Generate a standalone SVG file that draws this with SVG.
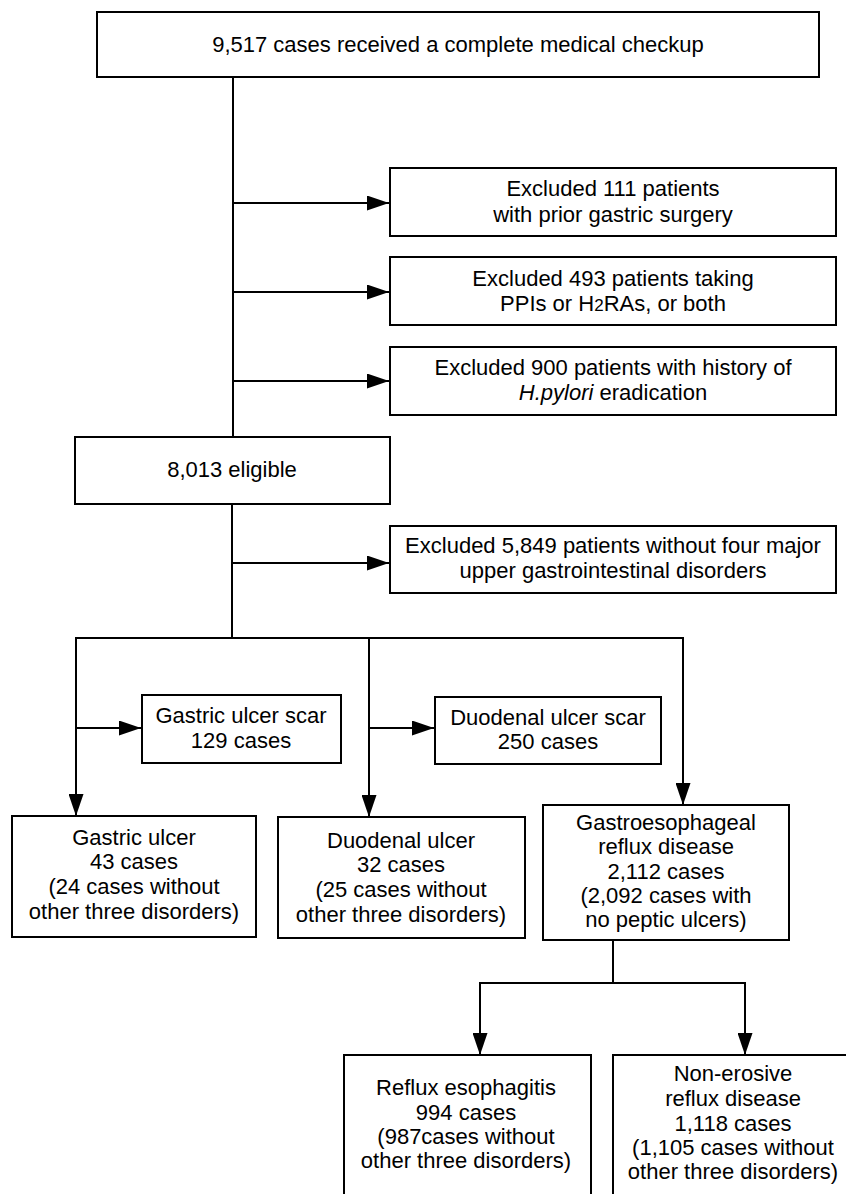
<svg xmlns="http://www.w3.org/2000/svg" width="846" height="1194" viewBox="0 0 846 1194">
<defs>
<style>
.box{fill:#fff;stroke:#000;stroke-width:2}
.t{font-family:"Liberation Sans",Arial,sans-serif;font-size:22px;fill:#000;text-anchor:middle}
.c{fill:none;stroke:#000;stroke-width:2}
</style>
<marker id="ah" viewBox="0 0 22 15" refX="22" refY="7.5" markerWidth="22" markerHeight="15" markerUnits="userSpaceOnUse" orient="auto">
<path d="M0,0 L22,7.5 L0,15 Z" fill="#000"/>
</marker>
</defs>
<rect width="846" height="1194" fill="#fff"/>
<g id="connectors">
<path class="c" d="M233,77 V437"/>
<path class="c" d="M233,203 H389" marker-end="url(#ah)"/>
<path class="c" d="M233,292 H389" marker-end="url(#ah)"/>
<path class="c" d="M233,381 H389" marker-end="url(#ah)"/>
<path class="c" d="M232,504 V638"/>
<path class="c" d="M232,563 H389" marker-end="url(#ah)"/>
<path class="c" d="M75,638 H684"/>
<path class="c" d="M76,638 V816" marker-end="url(#ah)"/>
<path class="c" d="M76,728 H141" marker-end="url(#ah)"/>
<path class="c" d="M369,638 V817" marker-end="url(#ah)"/>
<path class="c" d="M369,728 H434" marker-end="url(#ah)"/>
<path class="c" d="M683,638 V805" marker-end="url(#ah)"/>
<path class="c" d="M613,940 V983"/>
<path class="c" d="M479,983 H746"/>
<path class="c" d="M480,983 V1055" marker-end="url(#ah)"/>
<path class="c" d="M745,983 V1055" marker-end="url(#ah)"/>
</g>
<g id="n-total">
<rect class="box" x="97" y="12" width="722" height="65"/>
<text class="t" x="458" y="52">9,517 cases received a complete medical checkup</text>
</g>
<g id="n-ex1">
<rect class="box" x="390" y="168" width="446" height="68"/>
<text class="t" x="613" y="196">Excluded 111 patients</text>
<text class="t" x="613" y="222">with prior gastric surgery</text>
</g>
<g id="n-ex2">
<rect class="box" x="390" y="257" width="446" height="68"/>
<text class="t" x="613" y="286">Excluded 493 patients taking</text>
<text class="t" x="613" y="311">PPIs or H<tspan font-size="17">2</tspan>RAs, or both</text>
</g>
<g id="n-ex3">
<rect class="box" x="390" y="347" width="446" height="68"/>
<text class="t" x="613" y="375">Excluded 900 patients with history of</text>
<text class="t" x="613" y="400"><tspan font-style="italic">H.pylori</tspan> eradication</text>
</g>
<g id="n-eligible">
<rect class="box" x="75" y="437" width="315" height="67"/>
<text class="t" x="232" y="477">8,013 eligible</text>
</g>
<g id="n-ex4">
<rect class="box" x="390" y="526" width="446" height="67"/>
<text class="t" x="613" y="553">Excluded 5,849 patients without four major</text>
<text class="t" x="613" y="578">upper gastrointestinal disorders</text>
</g>
<g id="n-gus">
<rect class="box" x="142" y="695" width="199" height="68"/>
<text class="t" x="241" y="723">Gastric ulcer scar</text>
<text class="t" x="241" y="748">129 cases</text>
</g>
<g id="n-dus">
<rect class="box" x="435" y="697" width="226" height="67"/>
<text class="t" x="548" y="725">Duodenal ulcer scar</text>
<text class="t" x="548" y="749">250 cases</text>
</g>
<g id="n-gu">
<rect class="box" x="12" y="816" width="244" height="121"/>
<text class="t" x="134" y="845">Gastric ulcer</text>
<text class="t" x="134" y="869">43 cases</text>
<text class="t" x="134" y="894">(24 cases without</text>
<text class="t" x="134" y="919">other three disorders)</text>
</g>
<g id="n-du">
<rect class="box" x="278" y="817" width="247" height="121"/>
<text class="t" x="401" y="848">Duodenal ulcer</text>
<text class="t" x="401" y="872">32 cases</text>
<text class="t" x="401" y="897">(25 cases without</text>
<text class="t" x="401" y="922">other three disorders)</text>
</g>
<g id="n-gerd">
<rect class="box" x="543" y="805" width="246" height="135"/>
<text class="t" x="666" y="830">Gastroesophageal</text>
<text class="t" x="666" y="854">reflux disease</text>
<text class="t" x="666" y="879">2,112 cases</text>
<text class="t" x="666" y="903">(2,092 cases with</text>
<text class="t" x="666" y="927">no peptic ulcers)</text>
</g>
<g id="n-re">
<rect class="box" x="344" y="1055" width="247" height="150"/>
<text class="t" x="466" y="1095">Reflux esophagitis</text>
<text class="t" x="466" y="1120">994 cases</text>
<text class="t" x="466" y="1144">(987cases without</text>
<text class="t" x="466" y="1168">other three disorders)</text>
</g>
<g id="n-nerd">
<rect class="box" x="613" y="1055" width="240" height="150"/>
<text class="t" x="733" y="1081">Non-erosive</text>
<text class="t" x="733" y="1106">reflux disease</text>
<text class="t" x="733" y="1131">1,118 cases</text>
<text class="t" x="733" y="1155">(1,105 cases without</text>
<text class="t" x="733" y="1179">other three disorders)</text>
</g>
</svg>
